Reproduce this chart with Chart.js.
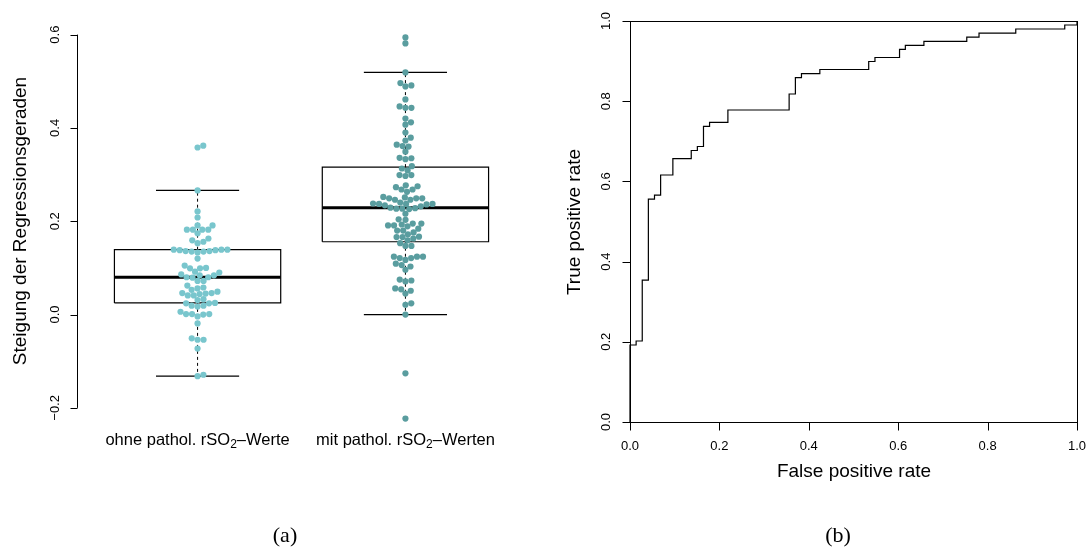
<!DOCTYPE html>
<html>
<head>
<meta charset="utf-8">
<script src="https://cdn.jsdelivr.net/npm/chart.js@4.4.0/dist/chart.umd.min.js"></script>
<style>
html, body { margin: 0; padding: 0; background: #fff; }
#wrap { position: relative; width: 1089px; height: 550px; overflow: hidden; }
canvas { position: absolute; left: 0; top: 0; }
.cap { position: absolute; top: 524px; line-height: 22px; font-family: "Liberation Serif", "DejaVu Serif", serif; font-size: 22px; transform: translateX(-50%); }
</style>
</head>
<body>
<div id="wrap">
  <canvas id="swarm" width="1089" height="550"></canvas>
  <canvas id="roc" width="1089" height="550"></canvas>
  <div class="cap" style="left:285px">(a)</div>
  <div class="cap" style="left:838px">(b)</div>
</div>
<script>
// (a) slopes per group
const groupNames = ["ohne pathol. rSO₂–Werte", "mit pathol. rSO₂–Werten"];
const slopesOhne = [0.362, 0.358, 0.266, 0.221, 0.208, 0.191, 0.191, 0.182, 0.182, 0.182, 0.182, 0.174,
  0.163, 0.159, 0.156, 0.153, 0.139, 0.139, 0.139, 0.138, 0.138, 0.136, 0.136, 0.135, 0.135, 0.133,
  0.120, 0.105, 0.100, 0.099, 0.099, 0.092, 0.090, 0.086, 0.084, 0.084, 0.080, 0.080, 0.079, 0.072, 0.072,
  0.062, 0.058, 0.056, 0.053, 0.049, 0.046, 0.046, 0.045, 0.044, 0.041, 0.041, 0.033, 0.031,
  0.025, 0.024, 0.024, 0.019, 0.019, 0.017, 0.006, 0.001, 0.001, 0.001, 0.000, -0.004,
  -0.019, -0.051, -0.054, -0.054, -0.073, -0.129, -0.132];
const slopesMit = [0.594, 0.581, 0.519, 0.496, 0.491, 0.489, 0.461, 0.446, 0.443, 0.443, 0.420, 0.412, 0.407,
  0.390, 0.379, 0.373, 0.364, 0.361, 0.360, 0.349, 0.336, 0.335, 0.333, 0.318, 0.313, 0.309, 0.299, 0.299, 0.297,
  0.277, 0.275, 0.273, 0.268, 0.268, 0.263, 0.252, 0.251, 0.249, 0.249, 0.249, 0.246, 0.246,
  0.240, 0.238, 0.237, 0.237, 0.237, 0.236, 0.234, 0.232, 0.229, 0.228, 0.227, 0.227, 0.226,
  0.216, 0.204, 0.203, 0.195, 0.195, 0.193, 0.191, 0.191, 0.189, 0.184, 0.180, 0.180, 0.176, 0.172,
  0.167, 0.166, 0.166, 0.163, 0.159, 0.153, 0.147, 0.147, 0.124, 0.124, 0.124, 0.121, 0.121, 0.117,
  0.109, 0.106, 0.103, 0.096, 0.075, 0.073, 0.071, 0.056, 0.054, 0.051, 0.045, 0.024, 0.021, 0.000,
  -0.126, -0.223];
const pointColors = ["#79c6cd", "#5a9d9f"];
// box statistics (lower whisker, Q1, median, Q3, upper whisker)
const whiskLow = [-0.132, 0.000];
const boxLow = [0.025, 0.156];
const boxMid = [0.080, 0.229];
const boxHigh = [0.139, 0.316];
const whiskHigh = [0.266, 0.519];
const yTicksLeft = [-0.2, 0.0, 0.2, 0.4, 0.6];
const yTickLabelsLeft = ["−0.2", "0.0", "0.2", "0.4", "0.6"];

// (b) ROC curve
const fpr = [0, 0, 0.0137, 0.0274, 0.0411, 0.0548, 0.0685, 0.0959, 0.137, 0.1507, 0.1644, 0.178, 0.219,
  0.356, 0.370, 0.3836, 0.4247, 0.534, 0.548, 0.603, 0.616, 0.6575, 0.7534, 0.7808, 0.863, 0.9726, 1.0];
const tpr = [0, 0.192, 0.202, 0.354, 0.556, 0.566, 0.616, 0.657, 0.677, 0.687, 0.737, 0.747, 0.778,
  0.818, 0.859, 0.869, 0.879, 0.899, 0.909, 0.929, 0.939, 0.949, 0.960, 0.970, 0.980, 0.990, 1.0];
const rocTicks = [0, 0.2, 0.4, 0.6, 0.8, 1.0];
const rocTickLabels = ["0.0", "0.2", "0.4", "0.6", "0.8", "1.0"];

const FONT = '"Liberation Sans", Arial, Helvetica, sans-serif';
const BOXHALF = 0.4, CAPHALF = 0.2;

function seg(points, width, dash) {
  return {
    data: points, showLine: true, borderColor: "#000", borderWidth: width,
    borderDash: dash || [], pointRadius: 0, order: 2, clip: false
  };
}

const groups = [slopesOhne, slopesMit];
const datasets = [];
groups.forEach((vals, g) => {
  datasets.push({
    data: vals.map(v => ({x: g + 1, y: v})),
    pointRadius: 3.1, pointBackgroundColor: pointColors[g], pointBorderWidth: 0,
    showLine: false, order: 1, clip: false
  });
});
groups.forEach((vals, g) => {
  const c = g + 1;
  datasets.push(seg([{x: c - BOXHALF, y: boxLow[g]}, {x: c + BOXHALF, y: boxLow[g]},
    {x: c + BOXHALF, y: boxHigh[g]}, {x: c - BOXHALF, y: boxHigh[g]}, {x: c - BOXHALF, y: boxLow[g]}], 1.2));
  datasets.push(seg([{x: c - BOXHALF, y: boxMid[g]}, {x: c + BOXHALF, y: boxMid[g]}], 3));
  datasets.push(seg([{x: c, y: boxHigh[g]}, {x: c, y: whiskHigh[g]}], 1, [3, 3]));
  datasets.push(seg([{x: c, y: boxLow[g]}, {x: c, y: whiskLow[g]}], 1, [3, 3]));
  datasets.push(seg([{x: c - CAPHALF, y: whiskHigh[g]}, {x: c + CAPHALF, y: whiskHigh[g]}], 1.2));
  datasets.push(seg([{x: c - CAPHALF, y: whiskLow[g]}, {x: c + CAPHALF, y: whiskLow[g]}], 1.2));
});

function drawSubLabel(ctx, text, cx, cy, size) {
  const parts = text.split("₂");
  ctx.font = size + "px " + FONT;
  const subFont = Math.round(size * 0.7) + "px " + FONT;
  const w1 = ctx.measureText(parts[0]).width;
  const w3 = ctx.measureText(parts[1]).width;
  ctx.font = subFont;
  const w2 = ctx.measureText("2").width;
  let x = cx - (w1 + w2 + w3) / 2;
  ctx.textAlign = "left";
  ctx.textBaseline = "middle";
  ctx.font = size + "px " + FONT;
  ctx.fillText(parts[0], x, cy);
  x += w1;
  ctx.font = subFont;
  ctx.fillText("2", x, cy + size * 0.28);
  x += w2;
  ctx.font = size + "px " + FONT;
  ctx.fillText(parts[1], x, cy);
}

const swarmAxes = {
  id: "swarmAxes",
  afterDraw(chart) {
    const {ctx, scales: {x, y}} = chart;
    const ax = Math.round(x.getPixelForValue(x.min)) + 0.5;
    ctx.save();
    ctx.strokeStyle = "#000";
    ctx.fillStyle = "#000";
    ctx.lineWidth = 1;
    ctx.beginPath();
    ctx.moveTo(ax, y.getPixelForValue(yTicksLeft[0]));
    ctx.lineTo(ax, y.getPixelForValue(yTicksLeft[yTicksLeft.length - 1]));
    yTicksLeft.forEach(t => {
      const py = Math.round(y.getPixelForValue(t)) + 0.5;
      ctx.moveTo(ax, py);
      ctx.lineTo(ax - 7, py);
    });
    ctx.stroke();
    ctx.font = "13px " + FONT;
    ctx.textAlign = "center";
    ctx.textBaseline = "middle";
    yTicksLeft.forEach((t, i) => {
      ctx.save();
      ctx.translate(ax - 22, y.getPixelForValue(t));
      ctx.rotate(-Math.PI / 2);
      ctx.fillText(yTickLabelsLeft[i], 0, 0);
      ctx.restore();
    });
    ctx.save();
    ctx.translate(21, 221);
    ctx.rotate(-Math.PI / 2);
    ctx.font = "19px " + FONT;
    ctx.fillText("Steigung der Regressionsgeraden", 0, 0);
    ctx.restore();
    groupNames.forEach((n, g) => drawSubLabel(ctx, n, x.getPixelForValue(g + 1), 440, 16.5));
    ctx.restore();
  }
};

const swarmChart = new Chart(document.getElementById("swarm"), {
  type: "scatter",
  data: {datasets: datasets},
  options: {
    responsive: false,
    animation: false,
    layout: {padding: {left: 77, top: 22, right: 563, bottom: 116}, autoPadding: false},
    plugins: {legend: {display: false}, tooltip: {enabled: false}},
    scales: {
      x: {type: "linear", min: 0.42, max: 2.58, display: false},
      y: {type: "linear", min: -0.256, max: 0.627, display: false}
    }
  },
  plugins: [swarmAxes]
});

// beeswarm: place each point as close to the centre as it can go without touching earlier ones
function swarmOffsets(values, yScale, d) {
  const order = values.map((v, i) => i).sort((a, b) => values[a] - values[b]);
  const placed = [];
  const off = new Array(values.length);
  for (const i of order) {
    const py = yScale.getPixelForValue(values[i]);
    const cands = [0];
    for (const p of placed) {
      const dy = Math.abs(p.py - py);
      if (dy < d) {
        const dx = Math.sqrt(d * d - dy * dy);
        cands.push(p.px + dx, p.px - dx);
      }
    }
    let best = null;
    for (const c of cands) {
      const ok = placed.every(p => (p.px - c) ** 2 + (p.py - py) ** 2 >= d * d - 0.01);
      if (ok && (best === null || Math.abs(c) < Math.abs(best) - 1e-9)) best = c;
    }
    placed.push({px: best, py: py});
    off[i] = best;
  }
  return off;
}

const sx = swarmChart.scales.x, sy = swarmChart.scales.y;
groups.forEach((vals, g) => {
  const off = swarmOffsets(vals, sy, 6);
  const cpx = sx.getPixelForValue(g + 1);
  swarmChart.data.datasets[g].data = vals.map((v, i) => ({x: sx.getValueForPixel(cpx + off[i]), y: v}));
});
swarmChart.update("none");

const rocAxes = {
  id: "rocAxes",
  afterDraw(chart) {
    const {ctx, scales: {x, y}} = chart;
    const l = Math.round(x.getPixelForValue(0)) + 0.5, r = Math.round(x.getPixelForValue(1)) + 0.5;
    const t = Math.round(y.getPixelForValue(1)) + 0.5, b = Math.round(y.getPixelForValue(0)) + 0.5;
    ctx.save();
    ctx.strokeStyle = "#000";
    ctx.fillStyle = "#000";
    ctx.lineWidth = 1;
    ctx.strokeRect(l, t, r - l, b - t);
    ctx.beginPath();
    rocTicks.forEach(v => {
      const px = Math.round(x.getPixelForValue(v)) + 0.5;
      ctx.moveTo(px, b);
      ctx.lineTo(px, b + 8);
      const py = Math.round(y.getPixelForValue(v)) + 0.5;
      ctx.moveTo(l, py);
      ctx.lineTo(l - 8, py);
    });
    ctx.stroke();
    ctx.font = "13px " + FONT;
    ctx.textAlign = "center";
    ctx.textBaseline = "middle";
    rocTicks.forEach((v, i) => {
      ctx.fillText(rocTickLabels[i], x.getPixelForValue(v), b + 24);
      ctx.save();
      ctx.translate(l - 24, y.getPixelForValue(v));
      ctx.rotate(-Math.PI / 2);
      ctx.fillText(rocTickLabels[i], 0, 0);
      ctx.restore();
    });
    ctx.font = "19px " + FONT;
    ctx.fillText("False positive rate", (l + r) / 2, 472);
    ctx.save();
    ctx.translate(l - 56, (t + b) / 2);
    ctx.rotate(-Math.PI / 2);
    ctx.fillText("True positive rate", 0, 0);
    ctx.restore();
    ctx.restore();
  }
};

new Chart(document.getElementById("roc"), {
  type: "scatter",
  data: {
    datasets: [{
      data: fpr.map((f, i) => ({x: f, y: tpr[i]})),
      showLine: true, stepped: "before", borderColor: "#000", borderWidth: 1.2,
      pointRadius: 0, clip: false
    }]
  },
  options: {
    responsive: false,
    animation: false,
    layout: {padding: {left: 630, top: 21, right: 12, bottom: 128}, autoPadding: false},
    plugins: {legend: {display: false}, tooltip: {enabled: false}},
    scales: {
      x: {type: "linear", min: 0, max: 1, display: false},
      y: {type: "linear", min: 0, max: 1, display: false}
    }
  },
  plugins: [rocAxes]
});
</script>
</body>
</html>
